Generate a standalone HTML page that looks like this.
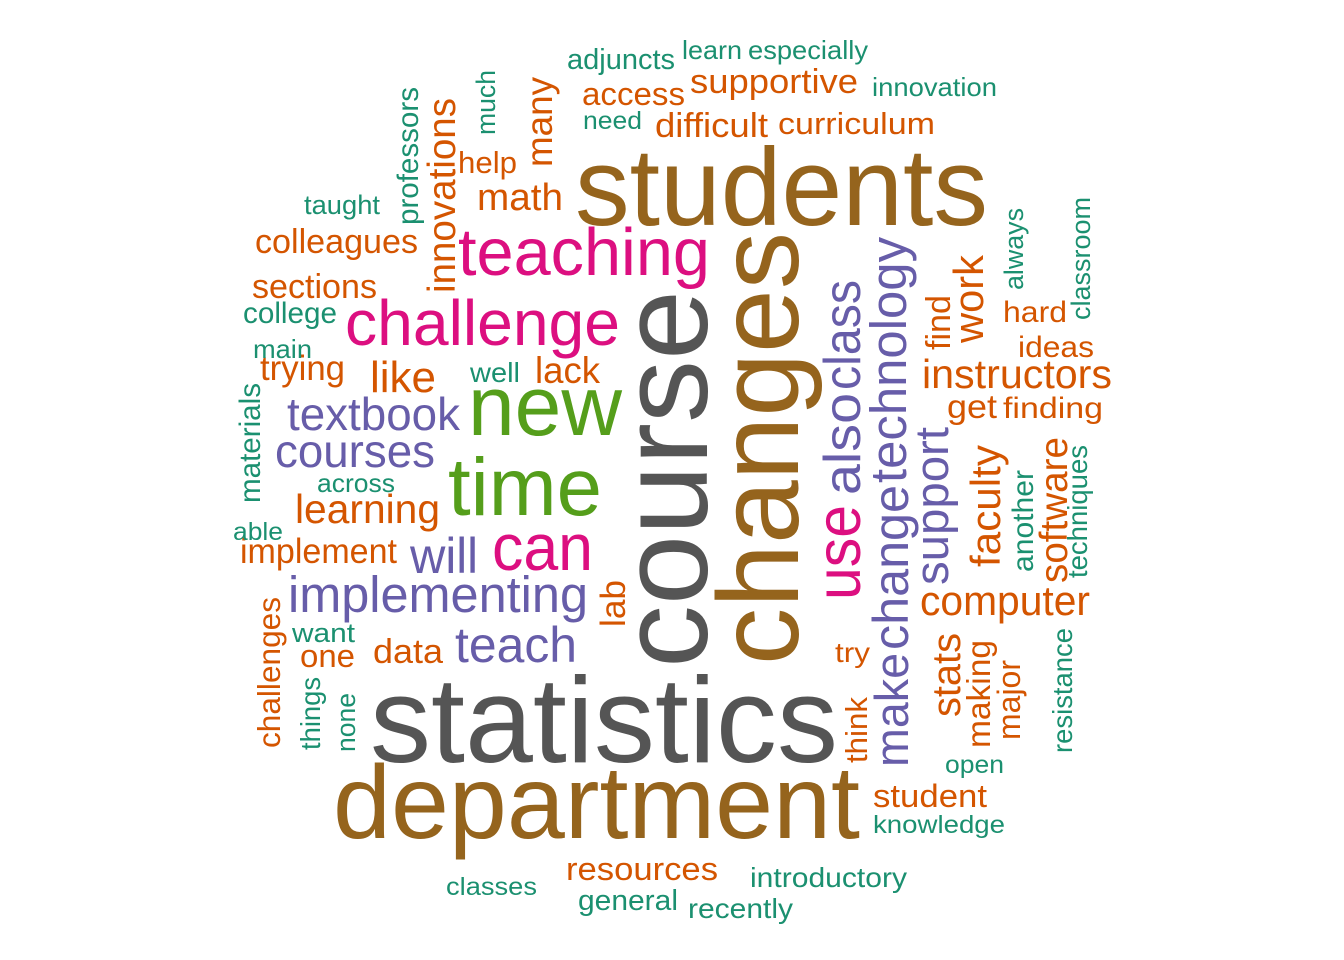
<!DOCTYPE html>
<html><head><meta charset="utf-8"><title>Word cloud</title>
<style>
html,body{margin:0;padding:0;background:#fff;}
svg{display:block;}
text{font-family:"Liberation Sans",Arial,sans-serif;}
</style></head>
<body>
<svg id="cloud" width="1344" height="960" viewBox="0 0 1344 960" xmlns="http://www.w3.org/2000/svg">
<rect width="1344" height="960" fill="#ffffff"/>
</svg>
<script>
const colors = {gray:"#555555",brown:"#95641D",pink:"#DC0F80",green:"#559E1B",purple:"#675DA9",orange:"#D45500",teal:"#1B9070"};
// horizontal words: word, left x, baseline y, font size, color, width
const hWords = [
["statistics",370,762,122,"gray",468],
["department",333,838,104,"brown",527],
["students",575,225,110,"brown",413],
["teaching",458,275,67,"pink",252],
["challenge",345,345,64,"pink",275],
["new",468,435,84,"green",154],
["time",448,515,82,"green",154],
["can",492,570,66,"pink",101],
["will",410,573,50,"purple",68],
["implementing",288,612,51,"purple",300],
["teach",455,662,50,"purple",122],
["textbook",287,430,46,"purple",173],
["courses",275,467,46,"purple",160],
["learning",295,523,41,"orange",145],
["implement",240,563,35,"orange",157],
["like",370,392,44,"orange",66],
["lack",535,383,37,"orange",65],
["well",470,382,28,"teal",50],
["trying",260,380,35,"orange",85],
["main",253,358,26,"teal",59],
["college",243,323,30,"teal",94],
["sections",252,298,34,"orange",125],
["colleagues",255,253,34,"orange",163],
["taught",304,214,27,"teal",76],
["help",458,173,31,"orange",59],
["math",477,210,38,"orange",86],
["adjuncts",567,69,29,"teal",108],
["learn",682,59,26,"teal",60],
["especially",748,59,26,"teal",120],
["access",582,105,32,"orange",103],
["supportive",690,93,34,"orange",168],
["innovation",872,96,26,"teal",125],
["need",583,129,25,"teal",59],
["difficult",655,137,34,"orange",113],
["curriculum",778,134,31,"orange",157],
["instructors",922,388,41,"orange",190],
["hard",1003,322,30,"orange",64],
["ideas",1018,357,30,"orange",76],
["get",947,418,33,"orange",50],
["finding",1003,418,30,"orange",100],
["computer",920,615,42,"orange",170],
["try",835,662,28,"orange",35],
["open",945,773,25,"teal",59],
["student",873,807,32,"orange",114],
["knowledge",873,833,25,"teal",132],
["data",373,663,34,"orange",70],
["one",300,667,32,"orange",55],
["want",292,642,27,"teal",63],
["across",317,492,26,"teal",78],
["able",233,540,25,"teal",50],
["resources",566,880,32,"orange",152],
["classes",446,895,25,"teal",91],
["general",578,910,29,"teal",100],
["recently",688,918,28,"teal",105],
["introductory",750,887,28,"teal",157]
];
// vertical words (read bottom to top): word, baseline x, bottom y, font size, color, length
const vWords = [
["course",707,668,125,"gray",378],
["changes",798,665,115,"brown",433],
["use",860,600,63,"pink",95],
["also",860,495,52,"purple",102],
["class",860,390,52,"purple",110],
["make",908,767,47,"purple",114],
["change",908,650,50,"purple",165],
["technology",906,483,51,"purple",246],
["support",948,585,47,"purple",158],
["find",950,350,34,"orange",55],
["work",983,343,42,"orange",88],
["always",1023,290,27,"teal",82],
["classroom",1090,320,27,"teal",123],
["faculty",1000,567,42,"orange",122],
["another",1033,572,30,"teal",102],
["software",1067,583,39,"orange",146],
["techniques",1087,578,27.5,"teal",133],
["stats",960,717,40,"orange",84],
["making",990,748,33.5,"orange",108],
["major",1020,740,32,"orange",80],
["resistance",1072,753,27.5,"teal",125],
["think",867,763,31,"orange",66],
["lab",625,627,35,"orange",47],
["professors",418,225,29.6,"teal",138],
["innovations",455,293,38.6,"orange",195],
["much",495,135,26.6,"teal",65],
["many",552,167,37,"orange",90],
["materials",260,503,29.6,"teal",120],
["challenges",280,748,31.6,"orange",151],
["things",320,750,27.4,"teal",73],
["none",355,752,26.5,"teal",59]
];
const svg = document.getElementById('cloud');
const NS = "http://www.w3.org/2000/svg";
function mk(w, vertical){
  const t = document.createElementNS(NS,'text');
  t.textContent = w[0];
  t.setAttribute('font-size', w[3]);
  t.setAttribute('fill', colors[w[4]]);
  t.setAttribute('textLength', w[5]);
  t.setAttribute('lengthAdjust', 'spacingAndGlyphs');
  if (vertical) {
    t.setAttribute('transform', 'translate(' + w[1] + ',' + w[2] + ') rotate(-90)');
  } else {
    t.setAttribute('x', w[1]);
    t.setAttribute('y', w[2]);
  }
  
  
  svg.appendChild(t);
}
hWords.forEach(w => mk(w, false));
vWords.forEach(w => mk(w, true));
</script>
</body></html>
